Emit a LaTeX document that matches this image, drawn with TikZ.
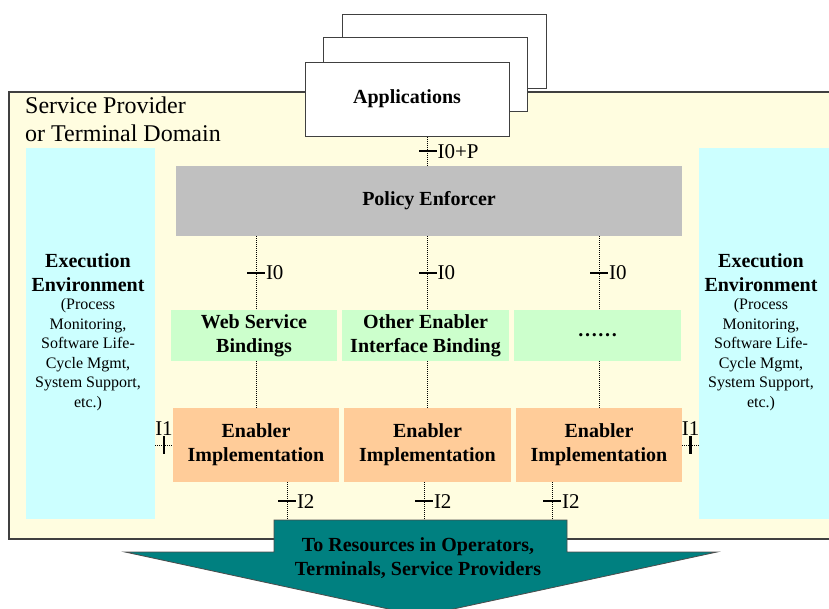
\documentclass[tikz,border=0pt]{standalone}
\usepackage{fontspec}
\setmainfont{Liberation Serif}
\usetikzlibrary{positioning}

\definecolor{edge}{RGB}{64,64,64}
\definecolor{domainfill}{RGB}{255,253,224}
\definecolor{envfill}{RGB}{204,255,255}
\definecolor{policyfill}{RGB}{192,192,192}
\definecolor{bindfill}{RGB}{204,255,204}
\definecolor{implfill}{RGB}{255,204,153}
\definecolor{arrowfill}{RGB}{0,128,128}

\begin{document}
\begin{tikzpicture}[x=1pt, y=-1pt,
  box/.style={inner sep=0pt, align=center, font=\fontsize{20}{24}\selectfont\bfseries},
  card/.style={box, draw=edge, line width=1pt, fill=white, minimum width=204, minimum height=74},
  link/.style={line width=1pt, dash pattern=on 1pt off 1pt},
  lbl/.style={inner sep=0pt, font=\fontsize{21}{24}\selectfont},
  tick/.style={fill=black, inner sep=0pt, minimum width=18, minimum height=2.2, label distance=7pt},
  vtick/.style={fill=black, inner sep=0pt, minimum width=2.2, minimum height=18, label distance=4pt}]

\path[use as bounding box, clip] (0,0) rectangle (829,608);

\draw[draw=edge, line width=1.2pt, fill=domainfill] (9,92) rectangle (850,539);

\node[anchor=north west, align=left, inner sep=0pt, font=\fontsize{24}{28}\selectfont] (dom) at (25,97) {Service Provider\\or Terminal Domain};

\node[card] (app3) at (444,51) {};

\node[card] (app2) at (425,74.5) {};

\node[card] (app) at (407,99) {Applications};

\node[box, fill=envfill, minimum width=129, minimum height=371] (ee1) at (90.5,333.5) {};

\node[box, fill=envfill, minimum width=130, minimum height=371] (ee2) at (764,333.5) {};

\node[box, anchor=north] (ee1t) at (88,253) {Execution\\Environment};

\node[below=7pt of ee1t, align=center, inner sep=0pt, font=\fontsize{16}{19.5}\selectfont] (ee1d) {(Process\\Monitoring,\\Software Life-\\Cycle Mgmt,\\System Support,\\etc.)};

\node[box, anchor=north] (ee2t) at (761,253) {Execution\\Environment};

\node[below=7pt of ee2t, align=center, inner sep=0pt, font=\fontsize{16}{19.5}\selectfont] (ee2d) {(Process\\Monitoring,\\Software Life-\\Cycle Mgmt,\\System Support,\\etc.)};

\node[box, fill=policyfill, minimum width=506, minimum height=70] (pol) at (429,201) {Policy Enforcer};

\node[box, fill=bindfill, minimum width=166, minimum height=51] (wsb) at (254,335.5) {Web Service\\Bindings};

\node[box, fill=bindfill, minimum width=167, minimum height=51] (oeb) at (425.5,335.5) {Other Enabler\\Interface Binding};

\node[box, fill=bindfill, minimum width=167, minimum height=51] (more) at (597.5,335.5) {……};

\node[box, fill=implfill, minimum width=166, minimum height=74] (eb1) at (256,445) {Enabler\\Implementation};

\node[box, fill=implfill, minimum width=167, minimum height=74] (eb2) at (427.5,445) {Enabler\\Implementation};

\node[box, fill=implfill, minimum width=166, minimum height=74] (eb3) at (599,445) {Enabler\\Implementation};

% resources arrow
\draw[draw=black!70, line width=0.8pt, fill=arrowfill] (274,520) -- (567,520) -- (567,552) -- (717,552) -- (421,616) -- (125,552) -- (274,552) -- cycle;

\node[box] (res) at (418,558) {To Resources in Operators,\\Terminals, Service Providers};

\coordinate (r1) at (287,520);

\coordinate (r2) at (424,520);

\coordinate (r3) at (552,520);

% interfaces
\draw[link] (app.south -| eb2) -- node[tick, label={[lbl]right:I0+P}] {} (pol.north -| eb2);

\draw[link] (pol.south -| eb1) -- node[tick, label={[lbl]right:I0}] {} (wsb.north -| eb1);

\draw[link] (pol.south -| eb2) -- node[tick, label={[lbl]right:I0}] {} (oeb.north -| eb2);

\draw[link] (pol.south -| eb3) -- node[tick, label={[lbl]right:I0}] {} (more.north -| eb3);

\draw[link] (wsb.south -| eb1) -- (eb1.north);

\draw[link] (oeb.south -| eb2) -- (eb2.north);

\draw[link] (more.south -| eb3) -- (eb3.north);

\draw[link] (ee1.east |- eb1) -- node[vtick, label={[lbl]above:I1}] {} (eb1.west);

\draw[link] (eb3.east) -- node[vtick, label={[lbl]above:I1}] {} (ee2.west |- eb3);

\draw[link] (eb1.south -| r1) -- node[tick, label={[lbl]right:I2}] {} (r1);

\draw[link] (eb2.south -| r2) -- node[tick, label={[lbl]right:I2}] {} (r2);

\draw[link] (eb3.south -| r3) -- node[tick, label={[lbl]right:I2}] {} (r3);

\end{tikzpicture}
\end{document}
